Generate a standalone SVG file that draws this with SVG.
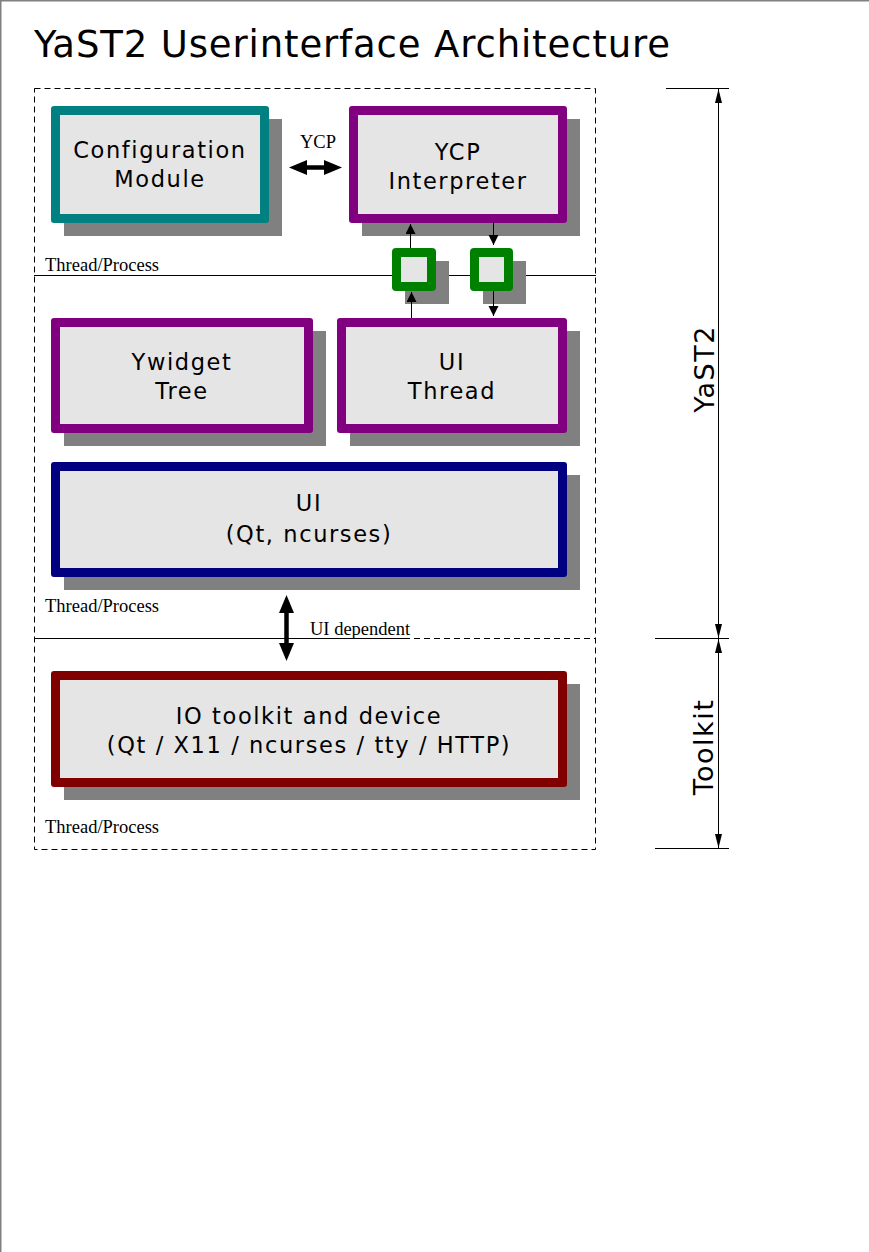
<svg xmlns="http://www.w3.org/2000/svg" width="869" height="1252" viewBox="0 0 869 1252">
<style>
.shadow{fill:#808080}
.inner{fill:#e5e5e5}
.lbl{font-family:"DejaVu Sans","Liberation Sans",sans-serif;font-size:22.5px;letter-spacing:1.6px;fill:#000;text-anchor:middle}
.ser{font-family:"Liberation Serif","Times New Roman",serif;font-size:18.5px;fill:#000}
.dim{font-family:"DejaVu Sans","Liberation Sans",sans-serif;font-size:27px;letter-spacing:1.5px;fill:#000;text-anchor:middle}
.thin{stroke:#000;stroke-width:1;fill:none}
.dash{stroke:#000;stroke-width:1;fill:none;stroke-dasharray:6 4}
</style>
<defs>
<marker id="sm" markerUnits="userSpaceOnUse" markerWidth="12" markerHeight="12" refX="10" refY="5" orient="auto-start-reverse"><path d="M0,0 L10,5 L0,10 z" fill="#000"/></marker>
<marker id="big" markerUnits="userSpaceOnUse" markerWidth="20" markerHeight="18" refX="2" refY="7.5" orient="auto-start-reverse"><path d="M0,0 L18,7.5 L0,15 z" fill="#000"/></marker>
<marker id="dm" markerUnits="userSpaceOnUse" markerWidth="16" markerHeight="10" refX="14" refY="3.5" orient="auto-start-reverse"><path d="M0,0 L14,3.5 L0,7 z" fill="#000"/></marker>
</defs>
<rect x="0" y="0" width="869" height="1252" fill="#fff"/>
<path d="M0.75,1252 V0.75 H869" stroke="#808080" stroke-width="1.5" fill="none"/>
<text x="34" y="57" font-family="DejaVu Sans, Liberation Sans, sans-serif" font-size="37" textLength="636" fill="#000">YaST2 Userinterface Architecture</text>

<g id="frames">
<rect class="dash" x="34.5" y="88.5" width="561" height="761"/>
<line class="thin" x1="34" y1="275.5" x2="596" y2="275.5"/>
<line class="dash" x1="34" y1="638.5" x2="596" y2="638.5"/>
<line class="thin" x1="34" y1="638.5" x2="407" y2="638.5"/>
<text class="ser" x="45" y="271">Thread/Process</text>
<text class="ser" x="45" y="612">Thread/Process</text>
<text class="ser" x="45" y="833">Thread/Process</text>
</g>

<g id="config-module">
<rect class="shadow" x="64" y="119" width="218" height="117"/>
<rect x="51" y="106" width="218" height="117" rx="3" fill="#008080"/>
<rect class="inner" x="60" y="115" width="200" height="99"/>
<text class="lbl" x="160" y="158">Configuration</text>
<text class="lbl" x="160" y="187">Module</text>
</g>

<g id="ycp-interpreter">
<rect class="shadow" x="362" y="119" width="218" height="117"/>
<rect x="349" y="106" width="218" height="117" rx="3" fill="#800080"/>
<rect class="inner" x="358" y="115" width="200" height="99"/>
<text class="lbl" x="458" y="160">YCP</text>
<text class="lbl" x="458" y="189">Interpreter</text>
</g>

<g id="queue-in">
<rect class="shadow" x="405" y="261" width="44" height="43"/>
<rect x="392" y="248" width="44" height="43" rx="4" fill="#008000"/>
<rect class="inner" x="401" y="257" width="26" height="25"/>
</g>
<g id="queue-out">
<rect class="shadow" x="483" y="261" width="43" height="43"/>
<rect x="470" y="248" width="43" height="43" rx="4" fill="#008000"/>
<rect class="inner" x="479" y="257" width="25" height="25"/>
</g>

<g id="ywidget-tree">
<rect class="shadow" x="64" y="331" width="262" height="115"/>
<rect x="51" y="318" width="262" height="115" rx="3" fill="#800080"/>
<rect class="inner" x="60" y="327" width="244" height="97"/>
<text class="lbl" x="182" y="370">Ywidget</text>
<text class="lbl" x="182" y="399">Tree</text>
</g>

<g id="ui-thread">
<rect class="shadow" x="350" y="331" width="230" height="115"/>
<rect x="337" y="318" width="230" height="115" rx="3" fill="#800080"/>
<rect class="inner" x="346" y="327" width="212" height="97"/>
<text class="lbl" x="452" y="370">UI</text>
<text class="lbl" x="452" y="399">Thread</text>
</g>

<g id="ui">
<rect class="shadow" x="64" y="475" width="516" height="115"/>
<rect x="51" y="462" width="516" height="115" rx="3" fill="#000080"/>
<rect class="inner" x="60" y="471" width="498" height="97"/>
<text class="lbl" x="309" y="511">UI</text>
<text class="lbl" x="309" y="542">(Qt, ncurses)</text>
</g>

<g id="io-toolkit">
<rect class="shadow" x="64" y="684" width="516" height="116"/>
<rect x="51" y="671" width="516" height="116" rx="3" fill="#800000"/>
<rect class="inner" x="60" y="680" width="498" height="98"/>
<text class="lbl" x="309" y="724">IO toolkit and device</text>
<text class="lbl" x="309" y="753">(Qt / X11 / ncurses / tty / HTTP)</text>
</g>

<g id="connectors">
<line x1="305" y1="167.5" x2="326" y2="167.5" stroke="#000" stroke-width="4.5" marker-start="url(#big)" marker-end="url(#big)"/>
<text class="ser" x="300" y="148" font-size="18">YCP</text>
<line class="thin" x1="410.5" y1="248" x2="410.5" y2="224" marker-end="url(#sm)"/>
<line class="thin" x1="493.5" y1="222" x2="493.5" y2="245" marker-end="url(#sm)"/>
<line class="thin" x1="411.5" y1="318" x2="411.5" y2="292" marker-end="url(#sm)"/>
<line class="thin" x1="493.5" y1="291" x2="493.5" y2="316" marker-end="url(#sm)"/>
<line x1="286.5" y1="611" x2="286.5" y2="645" stroke="#000" stroke-width="4.5" marker-start="url(#big)" marker-end="url(#big)"/>
<text class="ser" x="310" y="635">UI dependent</text>
</g>

<g id="dimensions">
<line class="thin" x1="666" y1="88.5" x2="729" y2="88.5"/>
<line class="thin" x1="655" y1="638.5" x2="729" y2="638.5"/>
<line class="thin" x1="655" y1="848.5" x2="729" y2="848.5"/>
<line class="thin" x1="718.5" y1="89" x2="718.5" y2="638" marker-start="url(#dm)" marker-end="url(#dm)"/>
<line class="thin" x1="718.5" y1="639" x2="718.5" y2="848" marker-start="url(#dm)" marker-end="url(#dm)"/>
<text class="dim" transform="translate(714,369) rotate(-90)">YaST2</text>
<text class="dim" transform="translate(713,747) rotate(-90)">Toolkit</text>
</g>
</svg>
